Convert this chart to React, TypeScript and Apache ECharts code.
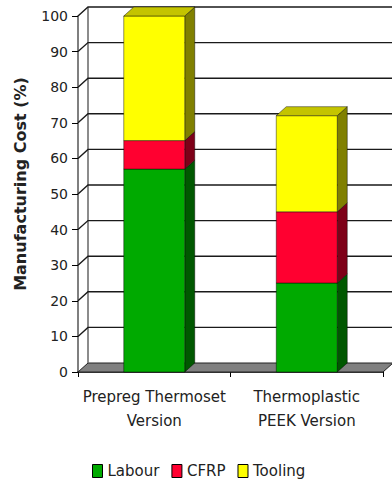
import React, { useEffect, useRef } from "react";
import * as echarts from "echarts";

const categories = ["Prepreg Thermoset\nVersion", "Thermoplastic\nPEEK Version"];
const labour = [57, 25];
const cfrp = [8, 20];
const tooling = [35, 27];
const yTicks = [10, 20, 30, 40, 50, 60, 70, 80, 90, 100];

const seriesNames = ["Labour", "CFRP", "Tooling"];
const frontColors = ["#00AA00", "#FF0030", "#FFFF00"];
const sideColors = ["#005800", "#7E0018", "#808000"];
const topColors = ["#007800", "#B00020", "#C4C400"];

const FONT = "DejaVu Sans";

// depth offset of the pseudo-3D box
const DX = 10;
const DY = -9;

function stackedData() {
  const layers = [labour, cfrp, tooling];
  const base = categories.map(() => 0);
  return layers.map((layer) =>
    layer.map((v, i) => {
      const item = [i, base[i], base[i] + v];
      base[i] += v;
      return item;
    })
  );
}

export default function App() {
  const ref = useRef<HTMLDivElement>(null);

  useEffect(() => {
    document.body.style.margin = "0";
    const chart = echarts.init(ref.current!, undefined, { renderer: "svg" });
    const stacks = stackedData();

    const barSeries = stacks.map((data, si) => ({
      type: "custom",
      name: seriesNames[si],
      itemStyle: { color: frontColors[si] },
      encode: { x: 0, y: [1, 2] },
      z: 10,
      data,
      renderItem: (params: any, api: any) => {
        const cat = api.value(0);
        const lo = api.coord([cat, api.value(1)]);
        const hi = api.coord([cat, api.value(2)]);
        const bw = api.size([1, 0])[0] * 0.4;
        const x0 = lo[0] - bw / 2;
        const x1 = lo[0] + bw / 2;
        const yb = lo[1];
        const yt = hi[1];
        const stroke = "rgba(0,0,0,0.55)";
        const children: any[] = [
          {
            type: "polygon",
            shape: {
              points: [
                [x1, yt],
                [x1 + DX, yt + DY],
                [x1 + DX, yb + DY],
                [x1, yb],
              ],
            },
            style: { fill: sideColors[si], stroke, lineWidth: 0.8 },
          },
          {
            type: "rect",
            shape: { x: x0, y: yt, width: bw, height: yb - yt },
            style: { fill: frontColors[si], stroke, lineWidth: 0.8 },
          },
        ];
        if (si === stacks.length - 1) {
          children.push({
            type: "polygon",
            shape: {
              points: [
                [x0, yt],
                [x1, yt],
                [x1 + DX, yt + DY],
                [x0 + DX, yt + DY],
              ],
            },
            style: { fill: topColors[si], stroke, lineWidth: 0.8 },
          });
        }
        return { type: "group", children };
      },
    }));

    const option: any = {
      animation: false,
      grid: { left: 78, right: 9, top: 16, bottom: 110, containLabel: false },
      graphic: [
        {
          type: "text",
          x: 20,
          y: 184,
          rotation: Math.PI / 2,
          style: {
            text: "Manufacturing Cost (%)",
            fontFamily: FONT,
            fontSize: 16,
            fontWeight: "bold",
            fill: "#222",
            align: "center",
            verticalAlign: "middle",
          },
        },
      ],
      legend: {
        data: seriesNames,
        left: 92,
        top: 463,
        padding: 0,
        itemWidth: 10,
        itemHeight: 13,
        itemGap: 12,
        icon: "rect",
        itemStyle: { borderColor: "#000", borderWidth: 1 },
        textStyle: { fontFamily: FONT, fontSize: 15, lineHeight: 16, color: "#222" },
      },
      xAxis: {
        type: "category",
        data: categories,
        boundaryGap: true,
        axisLine: { show: true, lineStyle: { color: "#000", width: 1.5 } },
        axisTick: { show: true, alignWithLabel: false, interval: 0, length: 5, lineStyle: { color: "#000" } },
        axisLabel: {
          interval: 0,
          margin: 13,
          fontFamily: FONT,
          fontSize: 15,
          lineHeight: 24,
          color: "#222",
        },
        splitLine: { show: false },
      },
      yAxis: {
        type: "value",
        min: 0,
        max: 100,
        interval: 10,
        axisLine: { show: true, lineStyle: { color: "#555", width: 1.5 } },
        axisTick: { show: true, inside: false, length: 6, lineStyle: { color: "#000" } },
        axisLabel: { margin: 10, fontFamily: FONT, fontSize: 14, color: "#222" },
        splitLine: { show: false },
      },
      series: [
        // floor and back-left corner
        {
          type: "custom",
          silent: true,
          z: 1,
          data: [[0]],
          renderItem: (params: any, api: any) => {
            const cs = params.coordSys;
            const x0 = cs.x;
            const x1 = cs.x + cs.width;
            const yb = api.coord([0, 0])[1];
            const yt = api.coord([0, 100])[1];
            return {
              type: "group",
              children: [
                {
                  type: "polygon",
                  shape: {
                    points: [
                      [x0, yb],
                      [x1, yb],
                      [x1 + DX, yb + DY],
                      [x0 + DX, yb + DY],
                    ],
                  },
                  style: { fill: "#808080", stroke: "#222", lineWidth: 1 },
                },
                {
                  type: "line",
                  shape: { x1: x0 + DX, y1: yb + DY, x2: x0 + DX, y2: yt + DY },
                  style: { stroke: "#666", lineWidth: 1.5 },
                },
              ],
            };
          },
        },
        // gridlines across the side wall and back wall
        {
          type: "custom",
          silent: true,
          z: 2,
          data: yTicks.map((t) => [0, t]),
          renderItem: (params: any, api: any) => {
            const cs = params.coordSys;
            const x0 = cs.x;
            const x1 = cs.x + cs.width;
            const y = api.coord([0, api.value(1)])[1];
            return {
              type: "polyline",
              shape: {
                points: [
                  [x0, y],
                  [x0 + DX, y + DY],
                  [x1 + DX, y + DY],
                ],
              },
              style: { stroke: "#1a1a1a", lineWidth: 1.4, fill: null },
            };
          },
        },
        ...barSeries,
      ],
    };

    chart.setOption(option);
    return () => chart.dispose();
  }, []);

  return <div ref={ref} style={{ width: 392, height: 482 }} />;
}
